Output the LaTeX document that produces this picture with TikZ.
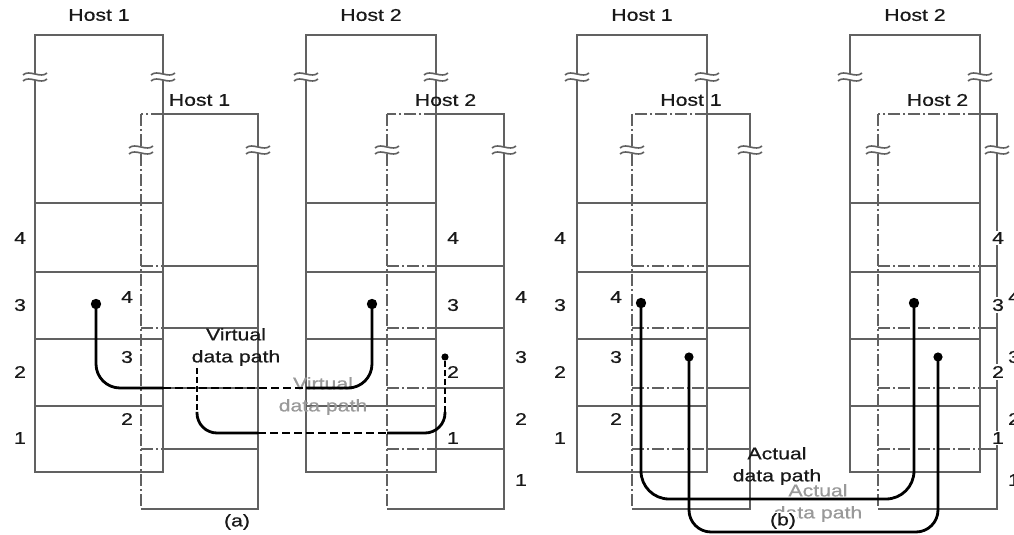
\documentclass[tikz,border=0pt]{standalone}
\usepackage{fontspec}
\setmainfont{Liberation Sans}[FakeBold=0.5]
\usepackage{graphicx}
\newcommand{\wtxt}[1]{\scalebox{1.25}[1]{#1}}
\tikzset{
  boxline/.style={draw=black!62, line width=1pt},
  hid/.style={dash pattern=on 6pt off 1.5pt on 1pt off 1.5pt},
  lbl/.style={font=\fontsize{8.5}{11}\selectfont, text=black!90, inner sep=1pt},
  num/.style={lbl, fill=white, inner sep=0.8pt},
  ghost/.style={lbl, text=black!40},
  vpath/.style={line width=1.4pt, black},
  vdash/.style={vpath, dash pattern=on 4pt off 2pt},
  vthin/.style={line width=0.8pt, black, dash pattern=on 3pt off 1.5pt},
}
\newcommand{\brkmark}[2]{%
  \fill[white] (#1-10,#2-3) rectangle (#1+10,#2+3);
  \draw[black!62, line width=0.8pt] (#1-12,#2-2) .. controls (#1-6,#2-8) and (#1+6,#2+2) .. (#1+12,#2-4);
  \draw[black!62, line width=0.8pt] (#1-12,#2+4) .. controls (#1-6,#2-2) and (#1+6,#2+8) .. (#1+12,#2+2);
}
% #1 id, #2 host number, #3 bigL, #4 bigR, #5 smallL, #6 smallR, #7 big num x, #8 small num x, #9 small num list
\newcommand{\drawhost}[9]{%
  \draw[boxline] (#3,35) rectangle (#4,472);
  \foreach \yy in {203,272,339,406} \draw[boxline] (#3,\yy) -- (#4,\yy);
  \draw[boxline,hid] (#5,114) -- (#5,509);
  \draw[boxline] (#5,509) -- (#6,509) -- (#6,114) -- (#4,114);
  \draw[boxline,hid] (#4,114) -- (#5,114);
  \foreach \yy in {266,328,388,449} {
    \draw[boxline,hid] (#5,\yy) -- (#4,\yy);
    \draw[boxline] (#4,\yy) -- (#6,\yy);
  }
  \brkmark{#3}{77}\brkmark{#4}{77}\brkmark{#5}{150}\brkmark{#6}{150}
  \node[lbl] (#1big) at ({(#3+#4)/2},15) {\wtxt{Host #2}};
  \node[lbl] (#1small) at ({(#5+#6)/2},100) {\wtxt{Host #2}};
  \foreach \n/\yy in {4/238,3/305,2/372,1/438} \node[num] (#1b\n) at (#7,\yy) {\wtxt{\n}};
  \foreach \n/\yy in {#9} \node[num] (#1s\n) at (#8,\yy) {\wtxt{\n}};
}
\begin{document}
\begin{tikzpicture}[x=0.5pt,y=-0.5pt]
\useasboundingbox (0,0) rectangle (1014,535);
\fill[white] (0,0) rectangle (1014,535);

% ---------- panel (a)
\drawhost{aA}{1}{35}{163}{141}{258}{20}{127}{4/297,3/357,2/419}
\drawhost{aB}{2}{306}{436}{387}{504}{453}{521}{4/297,3/357,2/419,1/480}

\node[ghost, align=center] (vghost) at (323,396) {\wtxt{Virtual}\\\wtxt{data path}};
\node[lbl, align=center] (vlab) at (236,347) {\wtxt{Virtual}\\\wtxt{data path}};

\coordinate (p1s) at (96,304);
\coordinate (p1c) at (96,388);
\coordinate (p1l) at (163,388);
\coordinate (p1r) at (306,388);
\coordinate (p1d) at (372,388);
\coordinate (p1e) at (372,304);
\draw[vpath, rounded corners=12pt] (p1s) -- (p1c) -- (p1l);
\draw[vdash] (p1l) -- (p1r);
\draw[vpath, rounded corners=12pt] (p1r) -- (p1d) -- (p1e);
\fill (p1s) circle (2.6pt);
\fill (p1e) circle (2.6pt);

\coordinate (p2s) at (197,368);
\coordinate (p2m) at (197,412);
\coordinate (p2c) at (197,433);
\coordinate (p2l) at (258,433);
\coordinate (p2r) at (387,433);
\coordinate (p2d) at (445,433);
\coordinate (p2n) at (445,412);
\coordinate (p2e) at (445,357);
\draw[vthin] (p2s) -- (p2m);
\draw[vpath, rounded corners=10pt] (p2m) -- (p2c) -- (p2l);
\draw[vdash] (p2l) -- (p2r);
\draw[vpath, rounded corners=10pt] (p2r) -- (p2d) -- (p2n);
\draw[vthin] (p2n) -- (p2e);
\fill (p2e) circle (1.8pt);

\node[lbl] (capa) at (237,522) {\wtxt{(a)}};

% ---------- panel (b)
\drawhost{bA}{1}{577}{707}{632}{750}{560}{616}{4/297,3/357,2/419}
\drawhost{bB}{2}{850}{980}{878}{997}{998}{1014}{4/297,3/357,2/419,1/480}

\node[lbl, align=center] (alab) at (777,466) {\wtxt{Actual}\\\wtxt{data path}};
\node[ghost, align=center] (aghost) at (818,503) {\wtxt{Actual}\\\wtxt{data path}};

\coordinate (q1s) at (641,303);
\coordinate (q1c) at (641,499);
\coordinate (q1d) at (914,499);
\coordinate (q1e) at (914,303);
\draw[vpath, rounded corners=14pt] (q1s) -- (q1c) -- (q1d) -- (q1e);
\fill (q1s) circle (2.6pt);
\fill (q1e) circle (2.6pt);

\coordinate (q2s) at (689,357);
\coordinate (q2c) at (689,532);
\coordinate (q2d) at (938,532);
\coordinate (q2e) at (938,357);
\draw[vpath, rounded corners=11pt] (q2s) -- (q2c) -- (q2d) -- (q2e);
\fill (q2s) circle (2.3pt);
\fill (q2e) circle (2.3pt);

\node[lbl, fill=white, inner sep=0.5pt] (capb) at (783,521) {\wtxt{(b)}};
\end{tikzpicture}
\end{document}
